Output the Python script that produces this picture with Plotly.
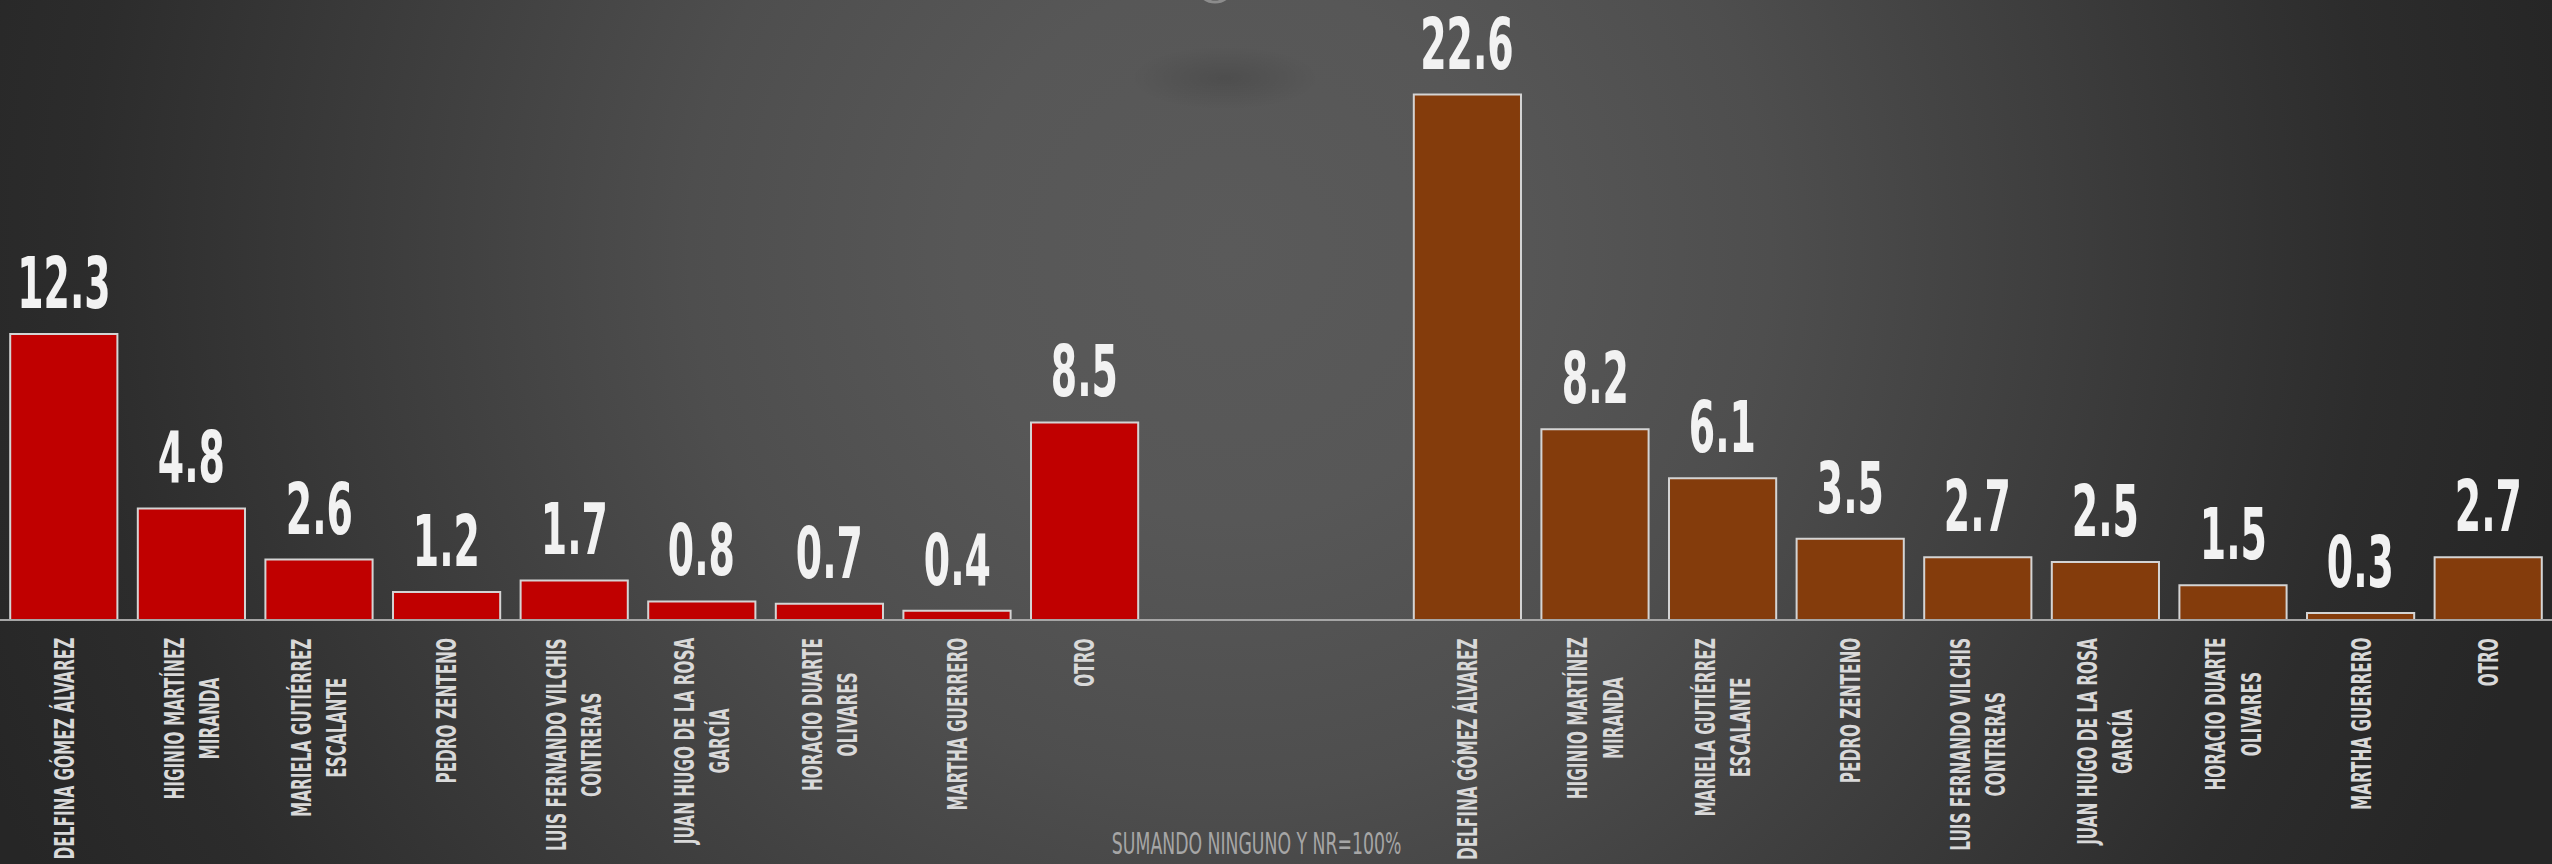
import base64

import plotly.graph_objects as go

W, H = 2552, 864

CANDIDATES = [
    "DELFINA GÓMEZ ÁLVAREZ",
    "HIGINIO MARTÍNEZ<br>MIRANDA",
    "MARIELA GUTIÉRREZ<br>ESCALANTE",
    "PEDRO ZENTENO",
    "LUIS FERNANDO VILCHIS<br>CONTRERAS",
    "JUAN HUGO DE LA ROSA<br>GARCÍA",
    "HORACIO DUARTE<br>OLIVARES",
    "MARTHA GUERRERO",
    "OTRO",
]
VALUES_A = [12.3, 4.8, 2.6, 1.2, 1.7, 0.8, 0.7, 0.4, 8.5]
VALUES_B = [22.6, 8.2, 6.1, 3.5, 2.7, 2.5, 1.5, 0.3, 2.7]
FOOTNOTE = "SUMANDO NINGUNO Y NR=100%"

RED = "#C00000"
BROWN = "#843C0C"
EDGE = "#d4d4d4"
FONT = "DejaVu Sans Condensed, DejaVu Sans, sans-serif"

VALUE_SIZE, LABEL_SIZE, NOTE_SIZE = 72, 27, 31
# the slide uses a very narrow display face; squeeze the text horizontally
SQUEEZE = {VALUE_SIZE: 0.585, LABEL_SIZE: 0.63, NOTE_SIZE: 0.62}

GAP = 2  # empty slots between the two groups
x_a = list(range(len(CANDIDATES)))
x_b = [i + len(CANDIDATES) + GAP for i in x_a]
n_slots = len(x_a) + GAP + len(x_b)

# background: soft grey spotlight, like the slide it came from
svg = f"""<svg xmlns="http://www.w3.org/2000/svg" width="{W}" height="{H}" viewBox="0 0 {W} {H}">
<defs>
<radialGradient id="g" gradientUnits="userSpaceOnUse" cx="1230" cy="250" r="1350">
<stop offset="0" stop-color="#5a5a5a"/>
<stop offset="0.2" stop-color="#575757"/>
<stop offset="0.4" stop-color="#4e4e4e"/>
<stop offset="0.65" stop-color="#3b3b3b"/>
<stop offset="0.85" stop-color="#2c2c2c"/>
<stop offset="1" stop-color="#262626"/>
</radialGradient>
<radialGradient id="s">
<stop offset="0" stop-color="#000" stop-opacity="0.12"/>
<stop offset="1" stop-color="#000" stop-opacity="0"/>
</radialGradient>
</defs>
<rect width="{W}" height="{H}" fill="url(#g)"/>
<ellipse cx="1225" cy="78" rx="95" ry="32" fill="url(#s)"/>
<circle cx="1215" cy="-17" r="19" fill="#505050" stroke="#8c8c8c" stroke-width="3"/>
</svg>"""
bg_uri = "data:image/svg+xml;base64," + base64.b64encode(svg.encode("utf-8")).decode("ascii")

PX_PER_UNIT = 23.25
BASE_PX = 620
y_top = BASE_PX / PX_PER_UNIT
y_bot = -(H - BASE_PX) / PX_PER_UNIT

fig = go.Figure()
for xs, vals, color in ((x_a, VALUES_A, RED), (x_b, VALUES_B, BROWN)):
    fig.add_trace(go.Bar(
        x=xs, y=vals, width=0.84,
        marker=dict(color=color, line=dict(color=EDGE, width=2)),
        hoverinfo="skip", showlegend=False,
    ))

annotations = []
for xs, vals in ((x_a, VALUES_A), (x_b, VALUES_B)):
    for x, v, name in zip(xs, vals, CANDIDATES):
        annotations.append(dict(
            x=x, y=v, xref="x", yref="y", text=f"{v:.1f}", showarrow=False,
            xanchor="center", yanchor="bottom", yshift=7,
            font=dict(family=FONT, size=VALUE_SIZE, color="#f2f2f2", weight="bold"),
        ))
        annotations.append(dict(
            x=x, y=0, xref="x", yref="y", text=name, showarrow=False,
            textangle=-90, align="center", xanchor="center", yanchor="top", yshift=-16,
            font=dict(family=FONT, size=LABEL_SIZE, color="#d9d9d9", weight="bold"),
        ))
annotations.append(dict(
    x=0.4925, y=1 - 843 / H, xref="paper", yref="paper", text=FOOTNOTE, showarrow=False,
    xanchor="center", yanchor="middle",
    font=dict(family=FONT, size=NOTE_SIZE, color="#a6a6a6"),
))

fig.update_layout(
    width=W, height=H,
    margin=dict(l=0, r=0, t=0, b=0),
    paper_bgcolor="#3a3a3a", plot_bgcolor="rgba(0,0,0,0)",
    xaxis=dict(visible=False, range=[-0.5, n_slots - 0.5], fixedrange=True),
    yaxis=dict(visible=False, range=[y_bot, y_top], fixedrange=True),
    images=[dict(source=bg_uri, xref="paper", yref="paper", x=0, y=1, sizex=1, sizey=1,
                 xanchor="left", yanchor="top", sizing="stretch", layer="below")],
    shapes=[dict(type="line", xref="paper", yref="y", x0=0, x1=1, y0=0, y1=0,
                 line=dict(color="#a6a6a6", width=2))],
    annotations=annotations,
)

squeeze_js = """
document.body.style.margin = '0';
var SQ = %s;
var gd = document.getElementById('{plot_id}');
gd.querySelectorAll('g.annotation text.annotation-text').forEach(function (t) {
  var s = SQ[Math.round(parseFloat(t.style.fontSize))];
  if (!s) return;
  var bb = t.getBBox();
  var tr = t.closest('g.annotation-text-g').getAttribute('transform') || '';
  var m = tr.match(/rotate\\(\\s*(-?[\\d.]+)/);
  var rotated = m && Math.abs(parseFloat(m[1])) > 1;
  // keep the end next to the axis fixed for the vertical names, the centre otherwise
  var cx = rotated ? bb.x + bb.width : bb.x + bb.width / 2;
  var prev = t.getAttribute('transform') || '';
  t.setAttribute('transform', prev + ' translate(' + cx + ',0) scale(' + s + ',1) translate(' + (-cx) + ',0)');
});
""" % str({k: v for k, v in SQUEEZE.items()}).replace("'", "")

fig.write_html("out.html", config={"displayModeBar": False}, post_script=squeeze_js)
